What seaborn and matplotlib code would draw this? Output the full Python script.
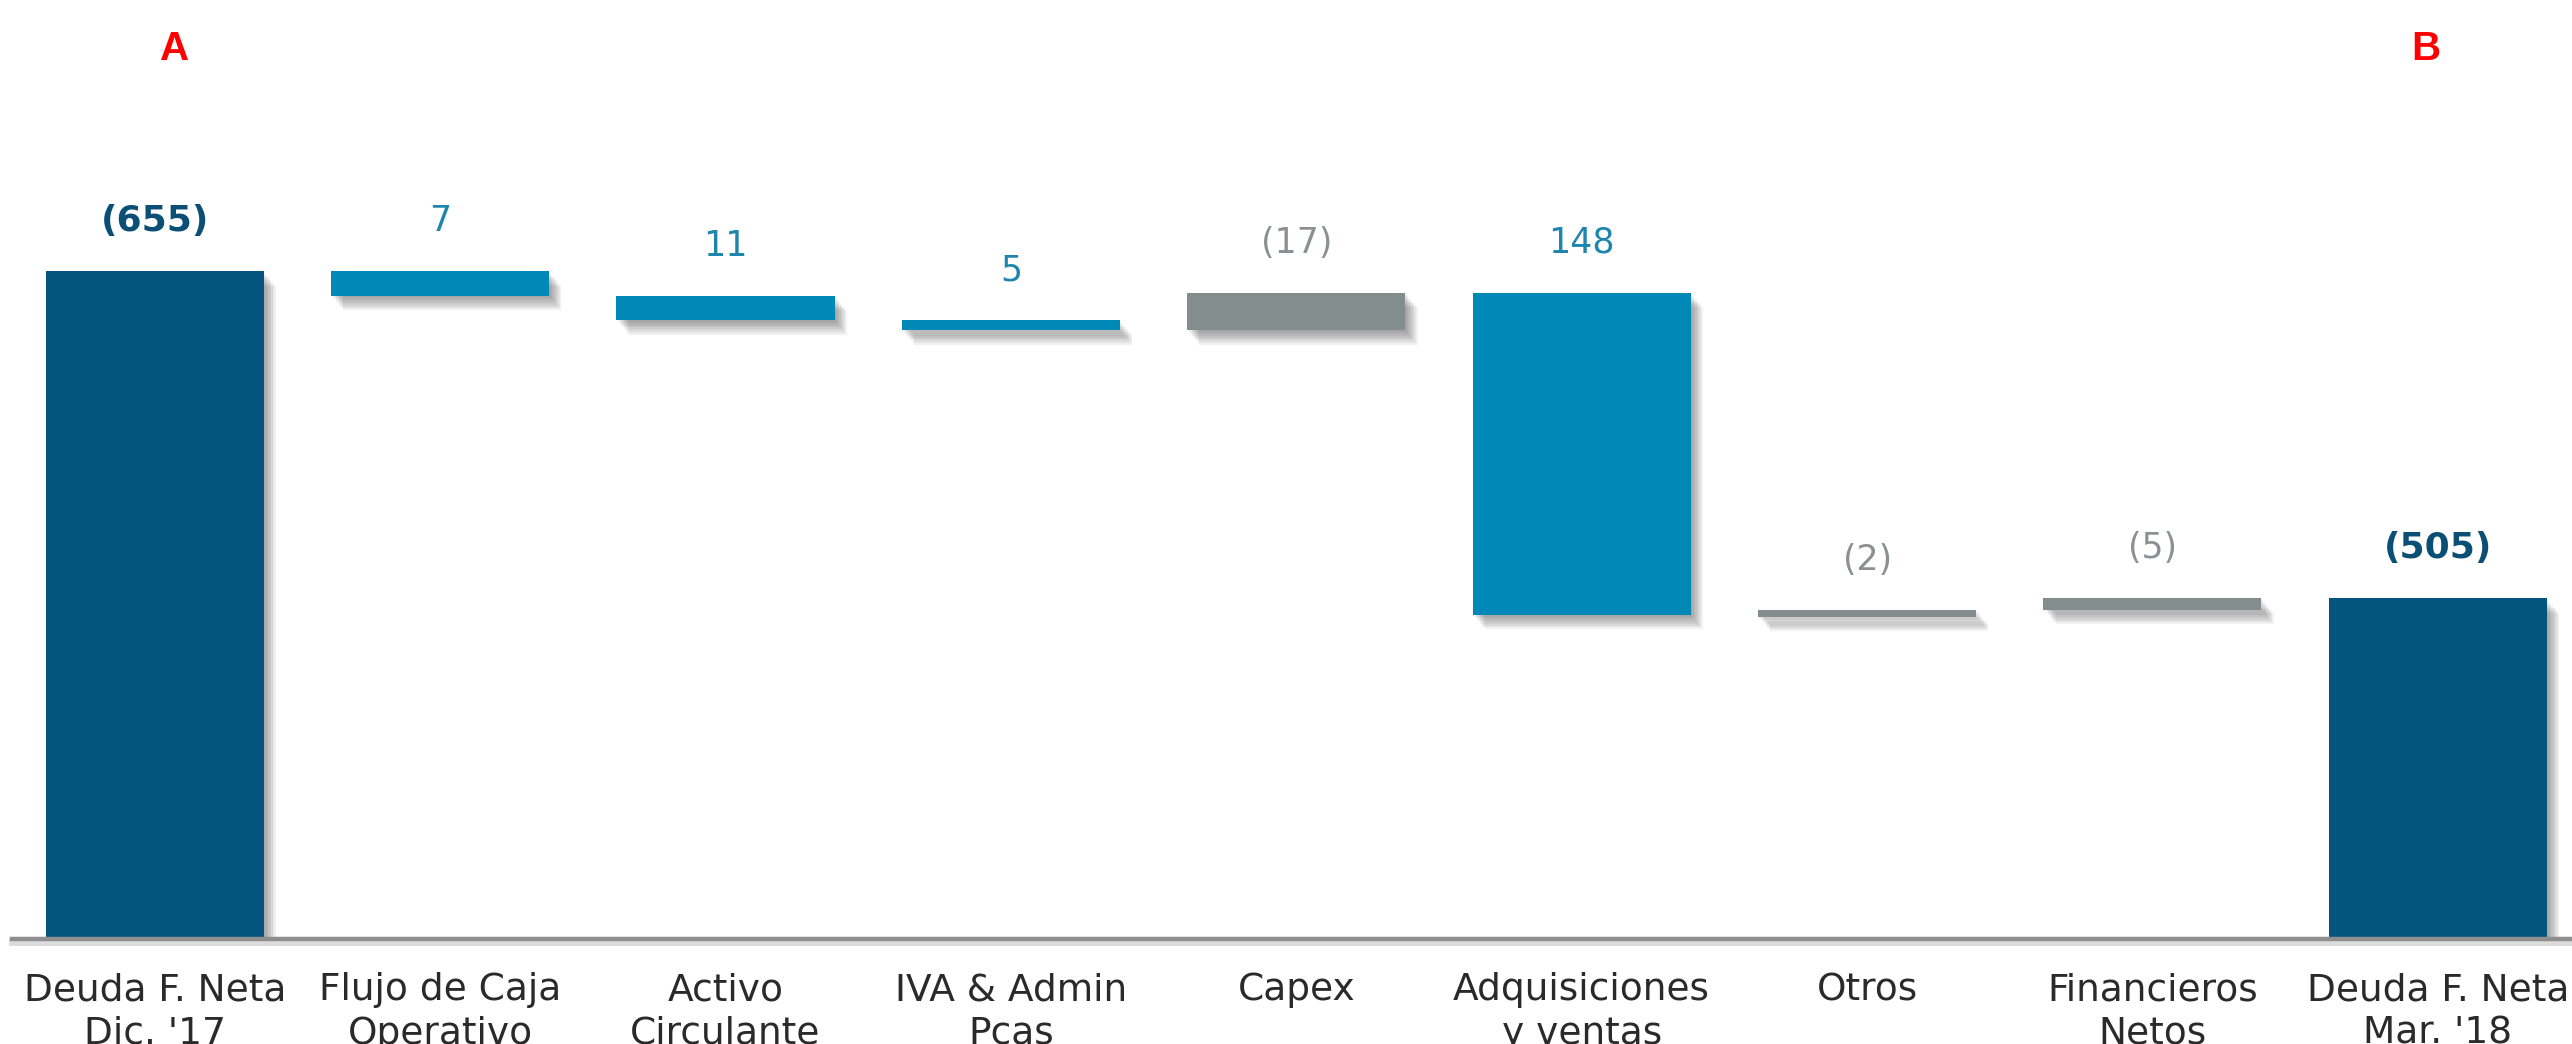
import numpy as np
import pandas as pd
import matplotlib
matplotlib.use("Agg")
import matplotlib.pyplot as plt
import matplotlib.patheffects as pe
import seaborn as sns

# ---------------- data ----------------
categories = ["Deuda F. Neta\nDic. '17", "Flujo de Caja\nOperativo", "Activo\nCirculante",
              "IVA & Admin\nPcas", "Capex", "Adquisiciones\ny ventas", "Otros",
              "Financieros\nNetos", "Deuda F. Neta\nMar. '18"]
bar_low = [0, 631, 607, 597, 597, 318, 316, 323, 0]
bar_high = [655, 655, 631, 607, 634, 634, 323, 334, 334]
value_labels = ["(655)", "7", "11", "5", "(17)", "148", "(2)", "(5)", "(505)"]
bar_kind = ["total", "down", "down", "down", "up", "down", "up", "up", "total"]
corner_letters = ["A", "B"]

# ---------------- styles ----------------
bar_colors = {"total": "#03557D", "down": "#0089B6", "up": "#838D8D"}
label_colors = {"total": "#0B4F75", "down": "#1E86AE", "up": "#8A9194"}

sns.set_style("white")
plt.rcParams["font.family"] = ["DejaVu Sans"]

fig = plt.figure(figsize=(25.72, 10.44), dpi=100)
ax = fig.add_axes([12 / 2572, 105 / 1044, 1 - 12 / 2572, 939 / 1044])

df = pd.DataFrame({
    "category": categories,
    "height": np.subtract(bar_high, bar_low),
    "kind": bar_kind,
})
palette = [bar_colors[k] for k in bar_kind]

sns.barplot(data=df, x="category", y="height", hue="category", order=categories,
            hue_order=categories, palette=palette, saturation=1, width=0.764,
            legend=False, ax=ax)

# waterfall: move each bar to its floating base, add soft drop shadow
shadow = []
for k in range(1, 9):
    shadow.append(pe.SimplePatchShadow(offset=(k * 1.1, -k * 1.3),
                                       shadow_rgbFace="#444444", alpha=0.075))
shadow.append(pe.Normal())

patches = sorted(ax.patches, key=lambda p: p.get_x())
for p, low in zip(patches, bar_low):
    p.set_y(low)
    p.set_edgecolor("none")
    p.set_path_effects(shadow)
    p.set_zorder(3)

# value labels
for i, (txt, kind, top) in enumerate(zip(value_labels, bar_kind, bar_high)):
    bold = kind == "total"
    ax.annotate(txt, xy=(i, top), xytext=(0, 36), textcoords="offset points",
                ha="center", va="center",
                fontsize=26 if bold else 25,
                fontweight="bold" if bold else "normal",
                color=label_colors[kind], zorder=5)

ax.set_xlim(-0.5, 8.47)
ax.set_ylim(0, 921)
ax.set_yticks([])
ax.set_xlabel("")
ax.set_ylabel("")
for s in ["left", "right", "top"]:
    ax.spines[s].set_visible(False)
ax.spines["bottom"].set_color("#8E8E8E")
ax.spines["bottom"].set_linewidth(3.2)
ax.spines["bottom"].set_zorder(4)
ax.spines["bottom"].set_path_effects([
    pe.SimpleLineShadow(offset=(0, -2), shadow_color="#777777", alpha=0.25, linewidth=5),
    pe.Normal()])

ax.tick_params(axis="x", length=0, pad=24, labelsize=27, labelcolor="#2A2A2A")
for t in ax.get_xticklabels():
    t.set_linespacing(1.27)

# corner letters
fig.text(175 / 2572, 1 - 49 / 1044, corner_letters[0], color="#FF0000",
         fontsize=29, fontweight="bold", ha="center", va="center",
         family=["Liberation Sans", "DejaVu Sans"])
fig.text(2426 / 2572, 1 - 49 / 1044, corner_letters[1], color="#FF0000",
         fontsize=29, fontweight="bold", ha="center", va="center",
         family=["Liberation Sans", "DejaVu Sans"])

fig.savefig("out.png", dpi=100)
